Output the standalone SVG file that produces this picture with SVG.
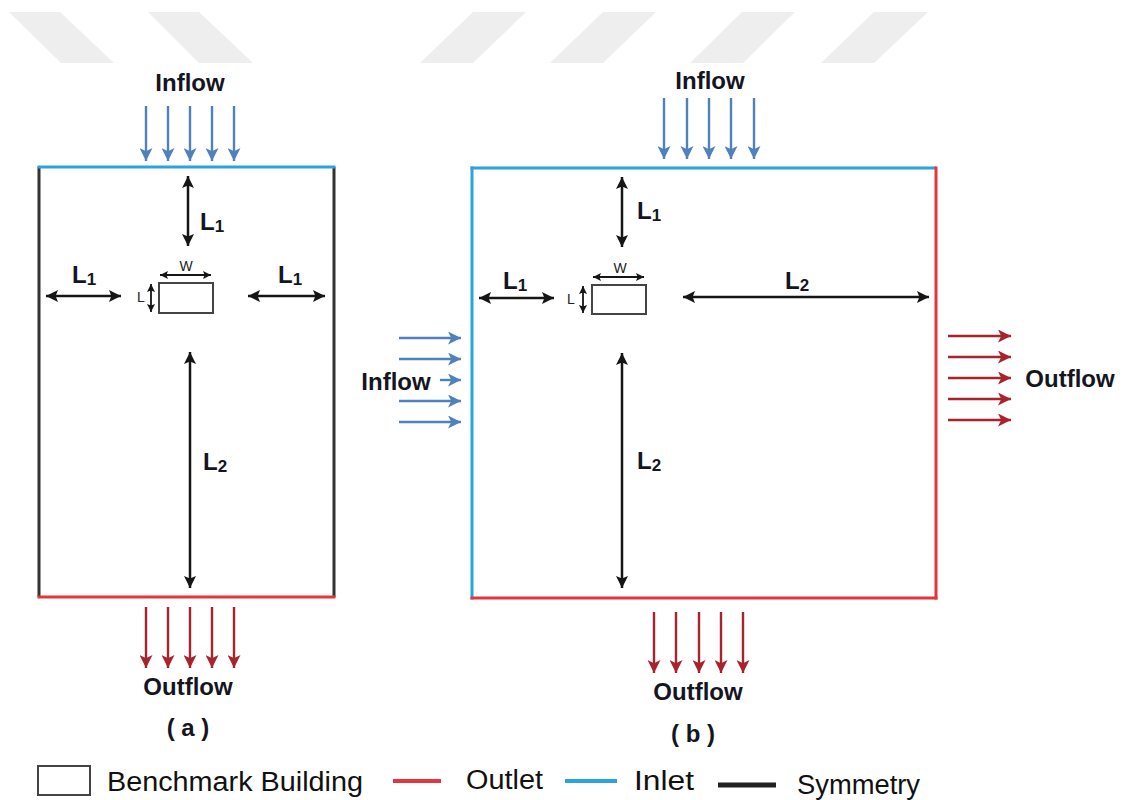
<svg xmlns="http://www.w3.org/2000/svg" width="1127" height="800" viewBox="0 0 1127 800">
<style>
.wm{fill:#eeeeee}
.lbl{font-family:"Liberation Sans",Arial,sans-serif;font-weight:bold;fill:#151522}
.flow{font-size:24px}
.dim{stroke:#151515;stroke-width:2.5;fill:none;marker-start:url(#dh);marker-end:url(#dh)}
.dims{stroke:#151515;stroke-width:1.8;fill:none;marker-start:url(#dhs);marker-end:url(#dhs)}
.bl{stroke:#4f81bd;stroke-width:2.4;marker-end:url(#ab)}
.rd{stroke:#a8232b;stroke-width:2.4;marker-end:url(#ar)}
.inlet{stroke:#2aa3e0;stroke-width:3;fill:none}
.outlet{stroke:#e5343d;stroke-width:3;fill:none}
.sym{stroke:#333333;stroke-width:3;fill:none}
.bld{fill:#ffffff;stroke:#444444;stroke-width:2}
.leg{font-family:"Liberation Sans",Arial,sans-serif;font-size:27px;fill:#111}
.sm{font-family:"Liberation Sans",Arial,sans-serif;font-size:14px;fill:#222}
</style>
<defs>
<marker id="dh" markerUnits="userSpaceOnUse" markerWidth="12" markerHeight="12" refX="10" refY="5" orient="auto-start-reverse" viewBox="0 0 10 10"><path d="M0,0 L10,5 L0,10 L2,5 z" fill="#151515"/></marker>
<marker id="dhs" markerUnits="userSpaceOnUse" markerWidth="8" markerHeight="8" refX="10" refY="5" orient="auto-start-reverse" viewBox="0 0 10 10"><path d="M0,0 L10,5 L0,10 L2,5 z" fill="#151515"/></marker>
<marker id="ab" markerUnits="userSpaceOnUse" markerWidth="14" markerHeight="13" refX="10" refY="5" orient="auto" viewBox="0 0 10 10"><path d="M0,0 L10,5 L0,10 L2.5,5 z" fill="#4f81bd"/></marker>
<marker id="ar" markerUnits="userSpaceOnUse" markerWidth="14" markerHeight="13" refX="10" refY="5" orient="auto" viewBox="0 0 10 10"><path d="M0,0 L10,5 L0,10 L2.5,5 z" fill="#a8232b"/></marker>
</defs>
<rect width="1127" height="800" fill="#ffffff"/>
<g id="watermark">
<polygon class="wm" points="9,12 60,12 114,63 61,63"/>
<polygon class="wm" points="148,12 199,12 253,63 199,63"/>
<polygon class="wm" points="473,12 526,12 473,63 420,63"/>
<polygon class="wm" points="603,12 656,12 603,63 550,63"/>
<polygon class="wm" points="742,12 795,12 743,63 690,63"/>
<polygon class="wm" points="874,12 928,12 874,63 821,63"/>
</g>
<g id="domain-a">
<line class="sym" x1="39" y1="167" x2="39" y2="597"/>
<line class="sym" x1="334" y1="167" x2="334" y2="597"/>
<line class="inlet" x1="37.5" y1="167" x2="335.5" y2="167"/>
<line class="outlet" x1="37.5" y1="597" x2="335.5" y2="597"/>
</g>
<g id="domain-b">
<line class="inlet" x1="472" y1="166.5" x2="472" y2="599.5"/>
<line class="inlet" x1="470.5" y1="168" x2="936" y2="168"/>
<line class="outlet" x1="936" y1="166.5" x2="936" y2="599.5"/>
<line class="outlet" x1="470.5" y1="598" x2="937.5" y2="598"/>
</g>
<g id="building-a"><rect class="bld" x="159" y="283" width="54" height="30"/></g>
<g id="building-b"><rect class="bld" x="592" y="285" width="54" height="29"/></g>
<g id="connectors">
<line class="bl" x1="146" y1="106" x2="146" y2="161"/>
<line class="bl" x1="168" y1="106" x2="168" y2="161"/>
<line class="bl" x1="190" y1="106" x2="190" y2="161"/>
<line class="bl" x1="212" y1="106" x2="212" y2="161"/>
<line class="bl" x1="234" y1="106" x2="234" y2="161"/>
<line class="rd" x1="146" y1="607" x2="146" y2="668"/>
<line class="rd" x1="168" y1="607" x2="168" y2="668"/>
<line class="rd" x1="190" y1="607" x2="190" y2="668"/>
<line class="rd" x1="212" y1="607" x2="212" y2="668"/>
<line class="rd" x1="234" y1="607" x2="234" y2="668"/>
<line class="dim" x1="188" y1="176" x2="188" y2="246"/>
<line class="dim" x1="46" y1="296" x2="121" y2="296"/>
<line class="dim" x1="248" y1="296" x2="325" y2="296"/>
<line class="dim" x1="190" y1="352" x2="190" y2="588"/>
<line class="dims" x1="160" y1="275" x2="211" y2="275"/>
<line class="dims" x1="151" y1="284" x2="151" y2="312"/>
<line class="bl" x1="664" y1="98" x2="664" y2="159"/>
<line class="bl" x1="687" y1="98" x2="687" y2="159"/>
<line class="bl" x1="709" y1="98" x2="709" y2="159"/>
<line class="bl" x1="731" y1="98" x2="731" y2="159"/>
<line class="bl" x1="754" y1="98" x2="754" y2="159"/>
<line class="bl" x1="399" y1="338" x2="461" y2="338"/>
<line class="bl" x1="399" y1="359" x2="461" y2="359"/>
<line class="bl" x1="440" y1="380" x2="461" y2="380"/>
<line class="bl" x1="399" y1="401" x2="461" y2="401"/>
<line class="bl" x1="399" y1="422" x2="461" y2="422"/>
<line class="rd" x1="948" y1="336" x2="1011" y2="336"/>
<line class="rd" x1="948" y1="357" x2="1011" y2="357"/>
<line class="rd" x1="948" y1="378" x2="1011" y2="378"/>
<line class="rd" x1="948" y1="399" x2="1011" y2="399"/>
<line class="rd" x1="948" y1="420" x2="1011" y2="420"/>
<line class="rd" x1="654" y1="612" x2="654" y2="673"/>
<line class="rd" x1="676" y1="612" x2="676" y2="673"/>
<line class="rd" x1="699" y1="612" x2="699" y2="673"/>
<line class="rd" x1="721" y1="612" x2="721" y2="673"/>
<line class="rd" x1="743" y1="612" x2="743" y2="673"/>
<line class="dim" x1="622" y1="177" x2="622" y2="247"/>
<line class="dim" x1="479" y1="298" x2="554" y2="298"/>
<line class="dim" x1="683" y1="297" x2="929" y2="297"/>
<line class="dim" x1="622" y1="353" x2="622" y2="588"/>
<line class="dims" x1="593" y1="277" x2="644" y2="277"/>
<line class="dims" x1="583" y1="286" x2="583" y2="313"/>
</g>
<g id="labels-a">
<text class="lbl flow" x="190" y="91" text-anchor="middle">Inflow</text>
<text class="lbl flow" x="188" y="695" text-anchor="middle">Outflow</text>
<text class="lbl flow" x="188" y="736" text-anchor="middle">( a )</text>
<text class="lbl" x="200" y="230" font-size="24">L<tspan font-size="17" dy="2">1</tspan></text>
<text class="lbl" x="72" y="283" font-size="24">L<tspan font-size="17" dy="2">1</tspan></text>
<text class="lbl" x="278" y="283" font-size="24">L<tspan font-size="17" dy="2">1</tspan></text>
<text class="lbl" x="203" y="470" font-size="24">L<tspan font-size="17" dy="2">2</tspan></text>
<text class="sm" x="186" y="271" text-anchor="middle">W</text>
<text class="sm" x="141" y="302" text-anchor="middle">L</text>
</g>
<g id="labels-b">
<text class="lbl flow" x="710" y="89" text-anchor="middle">Inflow</text>
<text class="lbl flow" x="396" y="390" text-anchor="middle">Inflow</text>
<text class="lbl flow" x="1070" y="387" text-anchor="middle">Outflow</text>
<text class="lbl flow" x="698" y="700" text-anchor="middle">Outflow</text>
<text class="lbl flow" x="693" y="742" text-anchor="middle">( b )</text>
<text class="lbl" x="637" y="219" font-size="24">L<tspan font-size="17" dy="2">1</tspan></text>
<text class="lbl" x="503" y="289" font-size="24">L<tspan font-size="17" dy="2">1</tspan></text>
<text class="lbl" x="785" y="289" font-size="24">L<tspan font-size="17" dy="2">2</tspan></text>
<text class="lbl" x="637" y="469" font-size="24">L<tspan font-size="17" dy="2">2</tspan></text>
<text class="sm" x="620" y="273" text-anchor="middle">W</text>
<text class="sm" x="571" y="304" text-anchor="middle">L</text>
</g>
<g id="legend">
<rect x="38" y="766" width="52" height="29" fill="#ffffff" stroke="#444" stroke-width="2"/>
<text class="leg" x="107" y="791" textLength="256" lengthAdjust="spacingAndGlyphs">Benchmark Building</text>
<line x1="393" y1="781" x2="441" y2="781" stroke="#e5343d" stroke-width="4"/>
<text class="leg" x="466" y="789" textLength="77" lengthAdjust="spacingAndGlyphs">Outlet</text>
<line x1="565" y1="781" x2="617" y2="781" stroke="#2aa3e0" stroke-width="4"/>
<text class="leg" x="634" y="790" textLength="60" lengthAdjust="spacingAndGlyphs">Inlet</text>
<line x1="718" y1="785" x2="776" y2="785" stroke="#222" stroke-width="5"/>
<text class="leg" x="797" y="794" textLength="123" lengthAdjust="spacingAndGlyphs">Symmetry</text>
</g>
</svg>
